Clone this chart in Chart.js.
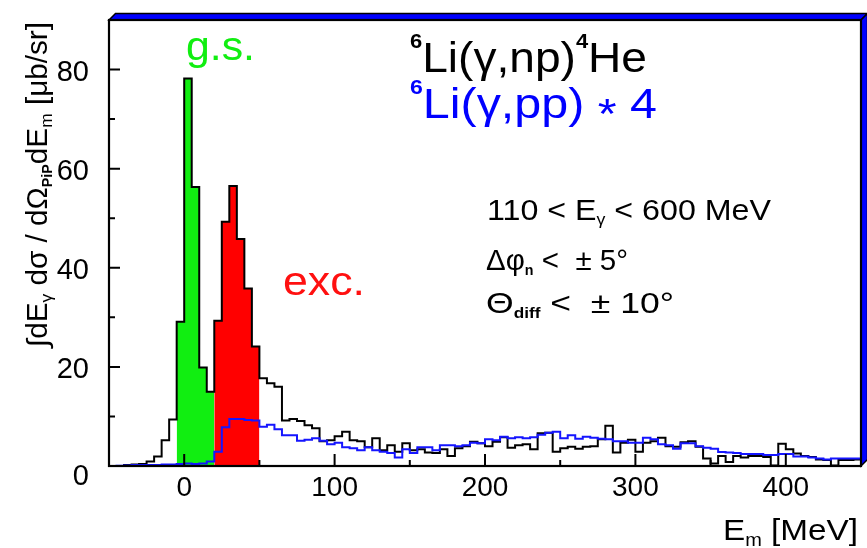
<!DOCTYPE html>
<html>
<head>
<meta charset="utf-8">
<script src="https://cdn.jsdelivr.net/npm/chart.js@4.4.0/dist/chart.umd.min.js"></script>
<style>
  html, body { margin: 0; padding: 0; background: #fff; }
  #wrap { width: 867px; height: 548px; }
</style>
</head>
<body>
<div id="wrap"><canvas id="chart" width="867" height="548"></canvas></div>
<script>
// histogram bins: 5 MeV wide, first bin starts at -50 MeV
const binStart = -50;
const binWidth = 5;

// 6Li(g,np)4He  (black)
const npValues = [
  0, 0, 0.2, 0.3, 0.4, 0.9, 1.9, 5.2, 9.4, 29.1,
  78.2, 56.3, 19.9, 15.0, 29.3, 49.3, 56.5, 45.8, 35.8, 24.1,
  17.7, 16.7, 16.0, 9.2, 9.5, 9.1, 8.2, 7.6, 5.0, 5.2,
  6.0, 6.9, 5.2, 5.0, 3.8, 5.6, 3.2, 4.2, 2.9, 4.6,
  3.2, 3.4, 2.7, 2.6, 3.4, 2.0, 3.6, 4.0, 4.9, 4.6,
  4.0, 4.9, 5.8, 3.7, 4.2, 4.4, 3.4, 6.6, 6.7, 2.9,
  3.6, 3.9, 3.5, 3.9, 4.0, 5.4, 8.1, 2.7, 4.7, 5.3,
  2.9, 4.7, 5.0, 5.7, 4.0, 3.9, 4.8, 5.0, 3.9, 1.5,
  0.5, 2.0, 0.8, 2.0, 1.7, 2.0, 2.0, 1.8, 0.1, 4.5,
  3.4, 2.5, 2.0, 1.8, 1.3, 1.2, 0.1, 1.2, 1.2, 1.3
];

// 6Li(g,pp) * 4  (blue)
const ppValues = [
  0, 0.05, 0.1, 0.2, 0.2, 0.2, 0.2, 0.3, 0.3, 0.4,
  0.5, 0.4, 0.5, 0.9, 2.9, 7.8, 9.5, 9.5, 9.3, 9.2,
  7.9, 8.3, 7.4, 6.2, 6.2, 5.1, 5.3, 5.6, 5.1, 4.4,
  4.7, 3.8, 3.6, 3.2, 3.8, 3.2, 2.9, 2.6, 1.7, 3.4,
  2.6, 3.8, 3.8, 3.2, 4.2, 4.2, 4.0, 4.2, 4.7, 4.6,
  5.4, 5.2, 5.9, 5.6, 5.8, 5.6, 5.8, 6.3, 6.7, 6.9,
  5.6, 6.2, 5.5, 5.9, 5.7, 5.5, 5.4, 5.0, 5.0, 4.7,
  4.7, 5.7, 5.4, 4.4, 4.2, 3.5, 4.6, 4.6, 4.0, 3.7,
  3.5, 2.8, 2.7, 2.6, 2.4, 2.4, 2.4, 2.2, 2.2, 2.4,
  2.4, 1.9, 1.9, 1.7, 1.5, 1.3, 1.5, 1.5, 1.5, 1.5
];

// shaded regions of the np spectrum
const gsRange = [-5, 20];
const excRange = [20, 50];

const xMin = -50, xMax = 450;
const yMin = 0, yMax = 90;
const xMajor = [0, 100, 200, 300, 400];
const xMinor = [-50, 50, 150, 250, 350, 450];
const yMajor = [0, 20, 40, 60, 80];
const yMinor = [10, 30, 50, 70];

const FONT = '"Liberation Sans", Arial, sans-serif';

// step points at bin low edges, plus a closing point
function stepPoints(values, from, to) {
  const pts = [];
  values.forEach((v, i) => {
    const x = binStart + i * binWidth;
    if (x >= from && x < to) pts.push({ x: x, y: v });
  });
  pts.push({ x: to, y: pts[pts.length - 1].y });
  return pts;
}

// text made of pieces [text, size, dy, weight], stretched to a width if given
function richText(ctx, x, y, parts, width, align) {
  let total = 0;
  parts.forEach(p => {
    ctx.font = (p[3] || '') + ' ' + p[1] + 'px ' + FONT;
    total += ctx.measureText(p[0]).width;
  });
  const sx = width ? width / total : 1;
  ctx.save();
  ctx.translate(align === 'right' ? x - total * sx : x, y);
  ctx.scale(sx, 1);
  ctx.textAlign = 'left';
  ctx.textBaseline = 'alphabetic';
  let cx = 0;
  parts.forEach(p => {
    ctx.font = (p[3] || '') + ' ' + p[1] + 'px ' + FONT;
    ctx.fillText(p[0], cx, p[2] || 0);
    cx += ctx.measureText(p[0]).width;
  });
  ctx.restore();
}

const framePlugin = {
  id: 'frame',
  afterDraw(chart) {
    const ctx = chart.ctx;
    const { left, top, right, bottom } = chart.chartArea;
    const xs = chart.scales.x, ys = chart.scales.y;
    const d = 6.5;
    ctx.save();

    // 3D blue frame edge
    ctx.fillStyle = '#0000ff';
    ctx.strokeStyle = '#000';
    ctx.lineWidth = 1.5;
    ctx.beginPath();
    ctx.moveTo(left, top);
    ctx.lineTo(left + d, top - d);
    ctx.lineTo(right + d, top - d);
    ctx.lineTo(right, top);
    ctx.closePath();
    ctx.fill(); ctx.stroke();
    ctx.beginPath();
    ctx.moveTo(right, top);
    ctx.lineTo(right + d, top - d);
    ctx.lineTo(right + d, bottom - d);
    ctx.lineTo(right, bottom);
    ctx.closePath();
    ctx.fill(); ctx.stroke();

    // frame
    ctx.lineWidth = 2.2;
    ctx.strokeRect(left, top, right - left, bottom - top);

    // inward ticks
    ctx.lineWidth = 2;
    ctx.beginPath();
    yMajor.forEach(v => { const p = ys.getPixelForValue(v); ctx.moveTo(left, p); ctx.lineTo(left + 11, p); });
    yMinor.forEach(v => { const p = ys.getPixelForValue(v); ctx.moveTo(left, p); ctx.lineTo(left + 6, p); });
    xMajor.forEach(v => { const p = xs.getPixelForValue(v); ctx.moveTo(p, bottom); ctx.lineTo(p, bottom - 12); });
    xMinor.forEach(v => { const p = xs.getPixelForValue(v); ctx.moveTo(p, bottom); ctx.lineTo(p, bottom - 6); });
    ctx.stroke();

    // tick labels
    ctx.fillStyle = '#000';
    ctx.font = '29px ' + FONT;
    ctx.textBaseline = 'alphabetic';
    ctx.textAlign = 'right';
    yMajor.forEach(v => {
      const p = ys.getPixelForValue(v);
      ctx.fillText(String(v), left - 20, v === 0 ? p + 19 : p + 11);
    });
    ctx.font = '28px ' + FONT;
    ctx.textAlign = 'center';
    xMajor.forEach(v => {
      ctx.fillText(String(v), xs.getPixelForValue(v), bottom + 30);
    });

    // axis titles
    richText(ctx, 858, 540, [['E', 30], ['m', 18, 6], [' [MeV]', 30]], 135, 'right');
    ctx.save();
    ctx.translate(47, 347);
    ctx.rotate(-Math.PI / 2);
    richText(ctx, 0, 0, [
      ['\u222BdE', 29], ['\u03B3', 17, 5], [' d\u03C3 / d\u03A9', 29], ['PiP', 14, 5, 'bold'],
      ['dE', 29], ['m', 17, 5], [' [\u03BCb/sr]', 29]
    ], 325);
    ctx.restore();

    // reaction labels
    ctx.fillStyle = '#000';
    richText(ctx, 410, 72, [['6', 20, -24, 'bold'], ['Li(\u03B3,np)', 42], ['4', 20, -24, 'bold'], ['He', 42]], 237);
    ctx.fillStyle = '#0000ff';
    richText(ctx, 410, 118, [['6', 20, -24, 'bold'], ['Li(\u03B3,pp) ', 42], ['*', 42, 10], [' 4', 42]], 247);

    ctx.fillStyle = '#11ee11';
    richText(ctx, 186, 60, [['g.s.', 41]], 69);
    ctx.fillStyle = '#ff1010';
    richText(ctx, 283, 295, [['exc.', 41]], 82);

    // cuts
    ctx.fillStyle = '#000';
    richText(ctx, 487, 220, [['110 < E', 29], ['\u03B3', 16, 5], [' < 600 MeV', 29]], 284);
    richText(ctx, 486, 270, [['\u0394\u03C6', 29], ['n', 14, 5, 'bold'], [' <  \u00B1 5\u00B0', 29]], 142);
    richText(ctx, 486, 313, [['\u0398', 29], ['diff', 14, 5, 'bold'], [' <  \u00B1 10\u00B0', 29]], 188);

    ctx.restore();
  }
};

const histLine = { pointRadius: 0, stepped: 'before', borderWidth: 2 };

new Chart(document.getElementById('chart'), {
  type: 'line',
  data: {
    datasets: [
      Object.assign({ label: 'pp*4', data: stepPoints(ppValues, xMin, xMax), borderColor: '#1515ff', fill: false, order: 0 }, histLine),
      Object.assign({ label: 'np', data: stepPoints(npValues, xMin, xMax), borderColor: '#000', fill: false, order: 1 }, histLine),
      Object.assign({ label: 'exc', data: stepPoints(npValues, excRange[0], excRange[1]), borderWidth: 0, borderColor: 'rgba(0,0,0,0)', backgroundColor: '#ff0000', fill: 'origin', order: 2 }, { pointRadius: 0, stepped: 'before' }),
      Object.assign({ label: 'gs', data: stepPoints(npValues, gsRange[0], gsRange[1]), borderWidth: 0, borderColor: 'rgba(0,0,0,0)', backgroundColor: '#11ee11', fill: 'origin', order: 3 }, { pointRadius: 0, stepped: 'before' })
    ]
  },
  options: {
    responsive: false,
    animation: false,
    devicePixelRatio: 1,
    layout: { padding: { left: 109, top: 20, right: 6, bottom: 82 } },
    plugins: { legend: { display: false }, tooltip: { enabled: false } },
    scales: {
      x: { type: 'linear', min: xMin, max: xMax, display: false },
      y: { type: 'linear', min: yMin, max: yMax, display: false }
    }
  },
  plugins: [framePlugin]
});
</script>
</body>
</html>
